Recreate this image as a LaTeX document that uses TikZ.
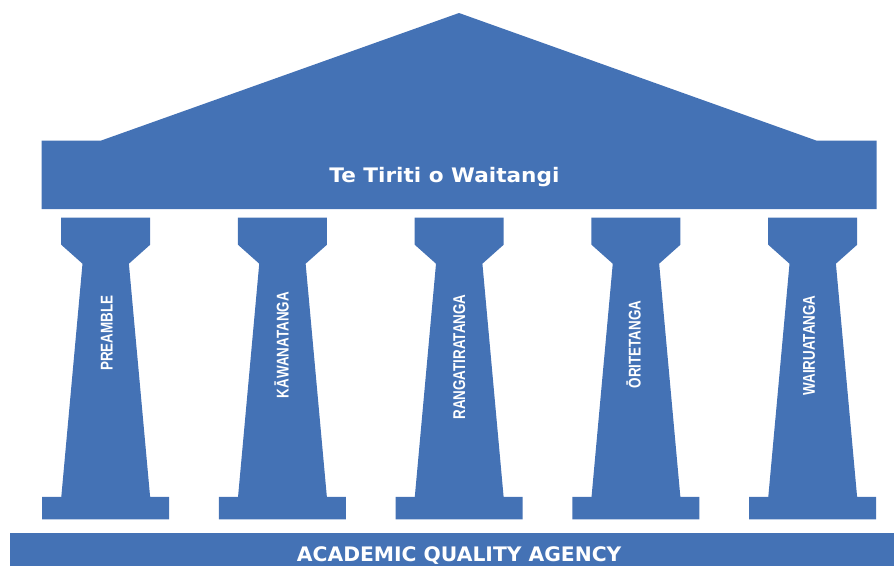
\documentclass[tikz,border=0pt]{standalone}
\usepackage{fontspec}
\newfontfamily\headfont{DejaVu Sans}
\newfontfamily\pillarfont{Liberation Sans}
\definecolor{templeblue}{HTML}{4472B5}
\begin{document}
\begin{tikzpicture}[x=1pt,y=-1pt,
  block/.style={fill=templeblue},
  headtext/.style={text=white,inner sep=0pt,anchor=base},
  pillarlabel/.style={text=white,rotate=90,inner sep=0pt,
    font=\pillarfont\bfseries\fontsize{17}{17}\selectfont},
]
\useasboundingbox (0,0) rectangle (894,565);
\clip (0,0) rectangle (894,565);

% roof: pediment and architrave
\fill[block] (41.7,209) -- (41.7,140.7) -- (100.7,140.7) -- (459,13)
  -- (816.7,140.7) -- (876.7,140.7) -- (876.7,209) -- cycle;

% five pillars: capital, tapering shaft, plinth
\foreach \c in {105.7,282.45,459.2,635.95,812.7}{
  \fill[block] (\c-44.5,217.5) -- (\c+44.5,217.5) -- (\c+44.5,244.7)
    -- (\c+23.2,263.7) -- (\c+44.4,496.8) -- (\c+63.5,496.8)
    -- (\c+63.5,519.3) -- (\c-63.5,519.3) -- (\c-63.5,496.8)
    -- (\c-44.4,496.8) -- (\c-23.2,263.7) -- (\c-44.5,244.7) -- cycle;
}

% foundation
\fill[block] (10,532.7) rectangle (900,570);

% texts
\node[headtext,font=\headfont\bfseries\fontsize{20}{20}\selectfont] (treaty)
  at (444.4,182.3) {\scalebox{1.08}[1]{Te Tiriti o Waitangi}};
\node[headtext,font=\headfont\bfseries\fontsize{20}{20}\selectfont] (agency)
  at (459.2,561.5) {\scalebox{1.015}[1]{ACADEMIC QUALITY AGENCY}};

\node[pillarlabel] (preamble) at (106.7,333) {\scalebox{0.79}[1]{PREAMBLE}};
\node[pillarlabel] (kawanatanga) at (281.7,345) {\scalebox{0.79}[1]{KĀWANATANGA}};
\node[pillarlabel] (rangatiratanga) at (459.3,357) {\scalebox{0.79}[1]{RANGATIRATANGA}};
\node[pillarlabel] (oritetanga) at (633.5,344.5) {\scalebox{0.79}[1]{ŌRITETANGA}};
\node[pillarlabel] (wairuatanga) at (809,345.5) {\scalebox{0.79}[1]{WAIRUATANGA}};
\end{tikzpicture}
\end{document}
